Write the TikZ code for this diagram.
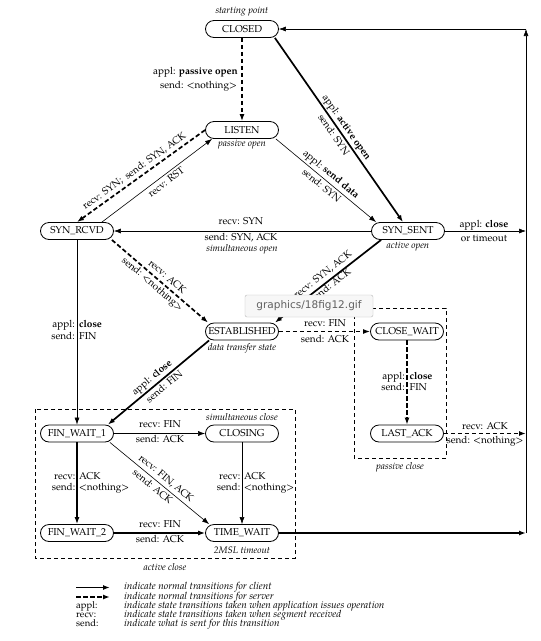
\documentclass[tikz,border=0pt]{standalone}
\usepackage{fontspec}
\setmainfont{TeX Gyre Pagella}
\newfontfamily\tipfont{DejaVu Sans}
\usetikzlibrary{arrows.meta}
\begin{document}
\begin{tikzpicture}[x=1pt,y=-1pt,
  every node/.style={inner sep=0pt},
  stbox/.style={draw, fill=white, line width=0.8pt, rounded corners=8.5pt, minimum width=73pt, minimum height=17pt, inner sep=1pt, font=\fontsize{10}{12}\selectfont},
  lbl/.style={font=\fontsize{10}{12}\selectfont, text height=7pt, text depth=2pt},
  note/.style={font=\fontsize{9.5}{11}\selectfont\itshape},
  leg/.style={font=\fontsize{10}{10}\selectfont\itshape, anchor=west, text height=6.5pt, text depth=2pt},
  legk/.style={font=\fontsize{9.5}{10}\selectfont, anchor=west, text height=6.5pt, text depth=2pt},
  arrowtip/.style={-{Latex[length=7pt,width=5pt]}},
  thickline/.style={line width=1.7pt, arrowtip},
  thinline/.style={line width=0.6pt, arrowtip},
  dashline/.style={line width=1.7pt, dash pattern=on 4.5pt off 2.5pt, arrowtip},
  region/.style={line width=0.7pt, dash pattern=on 4pt off 3pt}
]
\fill[white] (0,0) rectangle (541,641);
\useasboundingbox (0,0) rectangle (541,641);

% regions
\draw[region] (35,409) rectangle (295,558);
\draw[region] (354,308) rectangle (446,458);
\node[note] (actclose) at (165,567) {active close};
\node[note] (pasclose) at (400,467) {passive close};

% states
\node[note] (startpt) at (242,12) {starting point};
\node[stbox] (closed) at (242,29) {CLOSED};
\node[stbox] (listen) at (242,130) {LISTEN};
\node[note] (passopen) at (242,145) {passive open};
\node[stbox] (synrcvd) at (77,231) {SYN\_RCVD};
\node[stbox] (synsent) at (408,231) {SYN\_SENT};
\node[note] (actopen) at (408,247) {active open};
\node[stbox] (estab) at (242,331.5) {ESTABLISHED};
\node[note] (dts) at (242,348) {data transfer state};
\node[stbox] (closewait) at (407,331.5) {CLOSE\_WAIT};
\node[stbox] (lastack) at (407,433.5) {LAST\_ACK};
\node[stbox] (fw1) at (77,433.5) {FIN\_WAIT\_1};
\node[stbox] (closing) at (242,433.5) {CLOSING};
\node[note] (simclose) at (242,417) {simultaneous close};
\node[stbox] (fw2) at (77,533) {FIN\_WAIT\_2};
\node[stbox] (tw) at (242,533) {TIME\_WAIT};
\node[note] (msl) at (242,550) {2MSL timeout};

% right-hand return line
\coordinate (rtop) at (526,29);
\coordinate (rsyn) at (526,231);
\coordinate (rlast) at (526,433.5);
\coordinate (rbot) at (526,533);

% connectors
\draw[dashline] (closed) -- (listen);
\draw[thickline] ([xshift=-4pt]closed.south east) -- ([xshift=-5pt]synsent.north);
\draw[thinline] ([xshift=-3pt]listen.south east) -- ([xshift=5pt]synsent.north west);
\draw[dashline] (listen.west) -- (synrcvd.north);
\draw[thinline] ([xshift=-12pt]synrcvd.north east) -- ([xshift=7pt]listen.south west);
\draw[thinline] (synsent.west) -- (synrcvd.east);
\draw[dashline] ([xshift=-2pt]synrcvd.south east) -- ([xshift=3pt]estab.north west);
\draw[thickline] ([xshift=10pt]synsent.south west) -- ([xshift=-4pt]estab.north east);
\draw[thinline] (synrcvd.south) -- (fw1.north);
\draw[dashline] (estab.east) -- (closewait.west);
\draw[thickline] ([xshift=4pt]estab.south west) -- ([xshift=-6pt]fw1.north east);
\draw[dashline] (closewait.south) -- (lastack.north);
\draw[thinline] (fw1.east) -- (closing.west);
\draw[thickline] (fw1.south) -- (fw2.north);
\draw[thinline] ([xshift=-4pt]fw1.south east) -- ([xshift=4pt]tw.north west);
\draw[thinline] (closing.south) -- (tw.north);
\draw[thickline] (fw2.east) -- (tw.west);
\draw[thickline] (tw.east) -- (rbot);
\draw[dashline] (lastack.east) -- (rlast);
\draw[thinline] (synsent.east) -- (rsyn);
\draw[thinline] (rbot) -- (rtop);
\draw[thinline] (rtop) -- (closed.east);

% labels
\node[lbl, anchor=east] (l1) at (238,72) {appl: \textbf{passive open}};
\node[lbl, anchor=east] (l2) at (237,86) {send: <nothing>};
\node[lbl, rotate=-55.2] (l3) at (346.3,127.7) {appl: \textbf{active open}};
\node[lbl, rotate=-55.2] (l4) at (333.2,135.3) {send: SYN};
\node[lbl, rotate=-39.8] (l5) at (330.8,174.7) {appl: \textbf{send data}};
\node[lbl, rotate=-39.8] (l6) at (321.2,186.3) {send: SYN};
\node[lbl, rotate=35.75] (l7) at (134.5,171.5) {recv: SYN;\enspace send: SYN, ACK};
\node[lbl, rotate=37.1] (l8) at (166.5,182.7) {recv: RST};
\node[lbl] (l9) at (241,222) {recv: SYN};
\node[lbl] (l10) at (241,237.5) {send: SYN, ACK};
\node[note] (simopen) at (242,249.5) {simultaneous open};
\node[lbl] (l11) at (484,225) {appl: \textbf{close}};
\node[lbl] (l12) at (484,239) {or timeout};
\node[lbl, rotate=-40.7] (l13) at (166.9,277.3) {recv: ACK};
\node[lbl, rotate=-40.7] (l14) at (152.1,284.4) {send: <nothing>};
\node[lbl, rotate=38] (l15) at (323,275) {recv: SYN, ACK};
\node[lbl, rotate=38] (l16) at (331,286) {send: ACK};
\node[lbl, anchor=east] (l17) at (75,325) {appl:};
\node[lbl, anchor=west] (l18) at (79,325) {\textbf{close}};
\node[lbl, anchor=east] (l19) at (75,337) {send:};
\node[lbl, anchor=west] (l20) at (79,337) {FIN};
\node[lbl] (l21) at (325,324) {recv: FIN};
\node[lbl] (l22) at (325,339.5) {send: ACK};
\node[lbl, anchor=east] (l23) at (405,377) {appl:};
\node[lbl, anchor=west] (l24) at (409.5,377) {\textbf{close}};
\node[lbl, anchor=east] (l25) at (405,388) {send:};
\node[lbl, anchor=west] (l26) at (409.5,388) {FIN};
\node[lbl, rotate=39.8] (l27) at (152.2,378) {appl: \textbf{close}};
\node[lbl, rotate=39.8] (l28) at (164.8,387) {send: FIN};
\node[lbl] (l29) at (160,425) {recv: FIN};
\node[lbl] (l30) at (160,440) {send: ACK};
\node[lbl, anchor=east] (l31) at (75.5,477) {recv:};
\node[lbl, anchor=west] (l32) at (79,477) {ACK};
\node[lbl, anchor=east] (l33) at (75.5,488) {send:};
\node[lbl, anchor=west] (l34) at (79,488) {<nothing>};
\node[lbl, rotate=-39.5] (l35) at (165.8,478.7) {recv: FIN, ACK};
\node[lbl, rotate=-39.5] (l36) at (152.2,487) {send: ACK};
\node[lbl, anchor=east] (l37) at (240.5,477) {recv:};
\node[lbl, anchor=west] (l38) at (244,477) {ACK};
\node[lbl, anchor=east] (l39) at (240.5,488) {send:};
\node[lbl, anchor=west] (l40) at (244,488) {<nothing>};
\node[lbl] (l41) at (160,525) {recv: FIN};
\node[lbl] (l42) at (160,540) {send: ACK};
\node[lbl] (l43) at (485,427) {recv: ACK};
\node[lbl] (l44) at (485,441) {send: <nothing>};

% legend
\coordinate (la1) at (76,587.5);
\coordinate (lb1) at (110,587.5);
\coordinate (la2) at (76,597);
\coordinate (lb2) at (110,597);
\draw[thickline, line width=1.4pt] (la1) -- (lb1);
\draw[dashline, line width=1.4pt] (la2) -- (lb2);
\node[leg] (g1) at (124,587.5) {indicate normal transitions for client};
\node[leg] (g2) at (124,597) {indicate normal transitions for server};
\node[legk] (k3) at (76,606.5) {appl:};
\node[leg] (g3) at (124,606.5) {indicate state transitions taken when application issues operation};
\node[legk] (k4) at (76,615.5) {recv:};
\node[leg] (g4) at (124,615.5) {indicate state transitions taken when segment received};
\node[legk] (k5) at (76,624.5) {send:};
\node[leg] (g5) at (124,624.5) {indicate what is sent for this transition};

% tooltip overlay
\node[draw=gray!55, fill=gray!6, rounded corners=2pt, minimum width=128pt, minimum height=22pt, font=\tipfont\fontsize{10.5}{12}\selectfont, text=gray!75!black] (tooltip) at (309,306) {graphics/18fig12.gif};
\end{tikzpicture}
\end{document}
